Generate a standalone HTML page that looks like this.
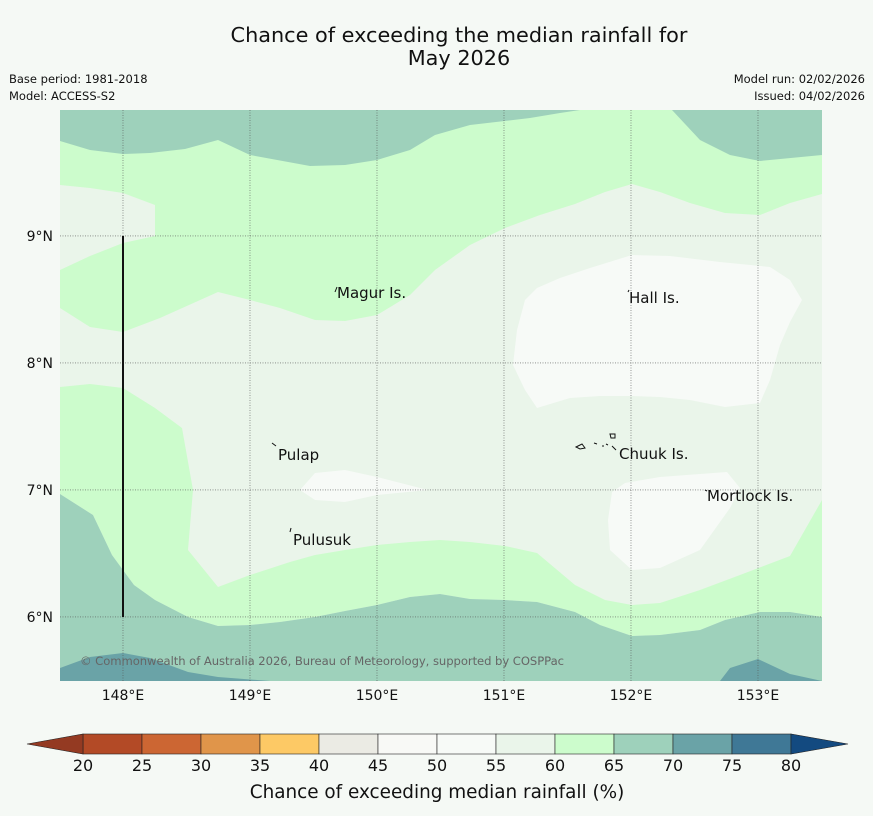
<!DOCTYPE html>
<html><head><meta charset="utf-8"><style>
body{margin:0;background:#f5f9f5;font-family:"Liberation Sans","DejaVu Sans",sans-serif}
svg{display:block}
</style></head><body>
<svg width="873" height="816" viewBox="0 0 873 816" font-family="DejaVu Sans, Liberation Sans, sans-serif">
<rect width="873" height="816" fill="#f5f9f5"/>
<text x="459" y="42" text-anchor="middle" font-size="20.8" fill="#111">Chance of exceeding the median rainfall for</text>
<text x="459" y="65" text-anchor="middle" font-size="20.8" fill="#111">May 2026</text>
<text x="9" y="83" font-size="11.5" fill="#111">Base period: 1981-2018</text>
<text x="9" y="100" font-size="11.5" fill="#111">Model: ACCESS-S2</text>
<text x="865" y="83" font-size="11.5" text-anchor="end" fill="#111">Model run: 02/02/2026</text>
<text x="865" y="100" font-size="11.5" text-anchor="end" fill="#111">Issued: 04/02/2026</text>
<defs><clipPath id="mc"><rect x="60" y="110" width="762" height="571"/></clipPath></defs>
<g clip-path="url(#mc)">
<rect x="60" y="110" width="762" height="571" fill="#eaf5ea"/>
<polygon fill="#ccfccc" points="60,110 822,110 822,194 790,203 760,215 725,213 690,203 660,192 632,184 605,192 575,204 540,215 505,228 470,245 435,270 410,295 377,315 345,321 315,320 280,308 250,300 218,292 160,318 123,332 90,327 60,308"/>
<polygon fill="#eaf5ea" points="60,185 90,188 123,193 155,205 155,236 123,243 90,256 60,270"/>
<polygon fill="#9ed1bb" points="60,110 580,110 560,113 530,118 470,125 435,135 410,150 377,160 345,165 310,166 250,155 218,140 185,149 150,153 123,154 90,150 60,141"/>
<polygon fill="#9ed1bb" points="672,110 700,140 730,155 760,161 822,155 822,110"/>
<polygon fill="#ccfccc" points="60,387 90,384 123,388 155,408 182,428 193,490 188,550 218,587 250,575 290,562 315,555 345,550 377,545 410,542 440,540 470,542 505,546 537,553 575,585 605,600 632,605 660,603 700,590 740,575 790,556 822,500 822,617 790,612 760,612 725,620 700,630 660,635 632,636 600,625 575,612 537,602 505,600 470,599 440,594 410,597 377,605 345,611 315,617 280,622 250,625 218,626 188,617 155,600 134,585 112,555 93,515 60,494"/>
<polygon fill="#9ed1bb" points="60,494 93,515 112,555 134,585 155,600 188,617 218,626 250,625 280,622 315,617 345,611 377,605 410,597 440,594 470,599 505,600 537,602 575,612 600,625 632,636 660,635 700,630 725,620 760,612 790,612 822,617 822,681 60,681"/>
<polygon fill="#6aa3a7" points="60,668 90,657 123,653 150,658 188,672 218,677 270,681 60,681"/>
<polygon fill="#6aa3a7" points="720,681 730,668 758,659 790,674 822,681"/>
<polygon fill="#f7faf7" points="537,288 560,278 590,268 632,255 670,256 720,262 770,267 790,280 802,300 790,322 780,345 770,380 760,403 725,407 690,400 660,397 632,396 600,396 570,398 537,408 525,390 513,365 517,330 525,300"/>
<polygon fill="#f7faf7" points="625,483 660,477 700,474 727,472 740,488 730,508 700,550 660,568 632,570 610,550 608,520 612,492"/>
<polygon fill="#f7faf7" points="300,490 315,473 345,470 377,477 428,490 377,495 345,502 315,500"/>
<g id="grid"></g>
<line x1="123" y1="236" x2="123" y2="617" stroke="#111" stroke-width="2"/>
<text x="80" y="665" font-size="11.6" fill="#666" textLength="484">© Commonwealth of Australia 2026, Bureau of Meteorology, supported by COSPPac</text>
<g font-size="15" fill="#111">
<text x="337" y="298">Magur Is.</text>
<text x="629" y="303">Hall Is.</text>
<text x="278" y="460">Pulap</text>
<text x="619" y="459">Chuuk Is.</text>
<text x="707" y="501">Mortlock Is.</text>
<text x="293" y="545">Pulusuk</text>
</g>
<g stroke="#111" fill="none" stroke-width="1">
<path d="M335,292 l2,-5"/><path d="M628,292 l1,-2"/><path d="M272,443 l4,3"/><path d="M290,532 l1,-4"/><path d="M705,490 l2,1"/>
<path d="M576,447 l6,-3 l3,4 l-5,1z M594,443 l3,1 M602,446 l2,0 M610,434 l5,0 l0,4 l-4,0z M612,446 l4,4 M606,444 l2,1"/>
</g>
</g>
<g id="axes" font-size="14" fill="#111"></g>
<g id="cbar"></g>
<text x="437" y="798" text-anchor="middle" font-size="18.4" fill="#111">Chance of exceeding median rainfall (%)</text>
<script>
const lonTicks=[148,149,150,151,152,153];
const latTicks=[9,8,7,6];
const cbarBounds=[20,25,30,35,40,45,50,55,60,65,70,75,80];
const cbarColors=["#b34a26","#cc6633","#e0954a","#fdc965","#ebebe4","#f8f9f6","#f7faf7","#eaf5ea","#ccfccc","#9ed1bb","#6aa3a7","#3f7896"];
const underColor="#943a22", overColor="#134a80";
const NS="http://www.w3.org/2000/svg";
function xLon(l){return 60+(l-147.504)*127;}
function yLat(l){return 110+(9.992-l)*127;}
function xC(v){return 83+(v-20)*(791-83)/60;}
function mk(t,a,p){const e=document.createElementNS(NS,t);for(const k in a)e.setAttribute(k,a[k]);p.appendChild(e);return e;}
const grid=document.getElementById('grid'),axes=document.getElementById('axes'),cb=document.getElementById('cbar');
lonTicks.forEach(l=>{const x=xLon(l);
 const g=mk('line',{x1:x,y1:110,x2:x,y2:681,stroke:'#555','stroke-width':0.6,'stroke-dasharray':'1,1.5'},grid);
 
 
 const t=mk('text',{x:x,y:700,'text-anchor':'middle'},axes);t.textContent=l+'°E';
 
 });
latTicks.forEach(l=>{const y=yLat(l);
 const g=mk('line',{x1:60,y1:y,x2:822,y2:y,stroke:'#555','stroke-width':0.6,'stroke-dasharray':'1,1.5'},grid);
 
 
 const t=mk('text',{x:53,y:y+5,'text-anchor':'end'},axes);t.textContent=l+'°N';
 
 });
cbarColors.forEach((c,i)=>{const x0=xC(cbarBounds[i]),x1=xC(cbarBounds[i+1]);
 const r=mk('rect',{x:x0,y:734,width:x1-x0,height:20,fill:c,stroke:'#222','stroke-width':0.6},cb);
 
 });
const u=mk('polygon',{points:`${xC(20)},734 ${xC(20)},754 27,744`,fill:underColor,stroke:'#222','stroke-width':0.6},cb);


const o=mk('polygon',{points:`${xC(80)},734 ${xC(80)},754 848,744`,fill:overColor,stroke:'#222','stroke-width':0.6},cb);


cbarBounds.forEach(v=>{const t=mk('text',{x:xC(v),y:771,'text-anchor':'middle','font-size':16,fill:'#111'},cb);t.textContent=v;
 
 });
</script>
</svg>
</body></html>
